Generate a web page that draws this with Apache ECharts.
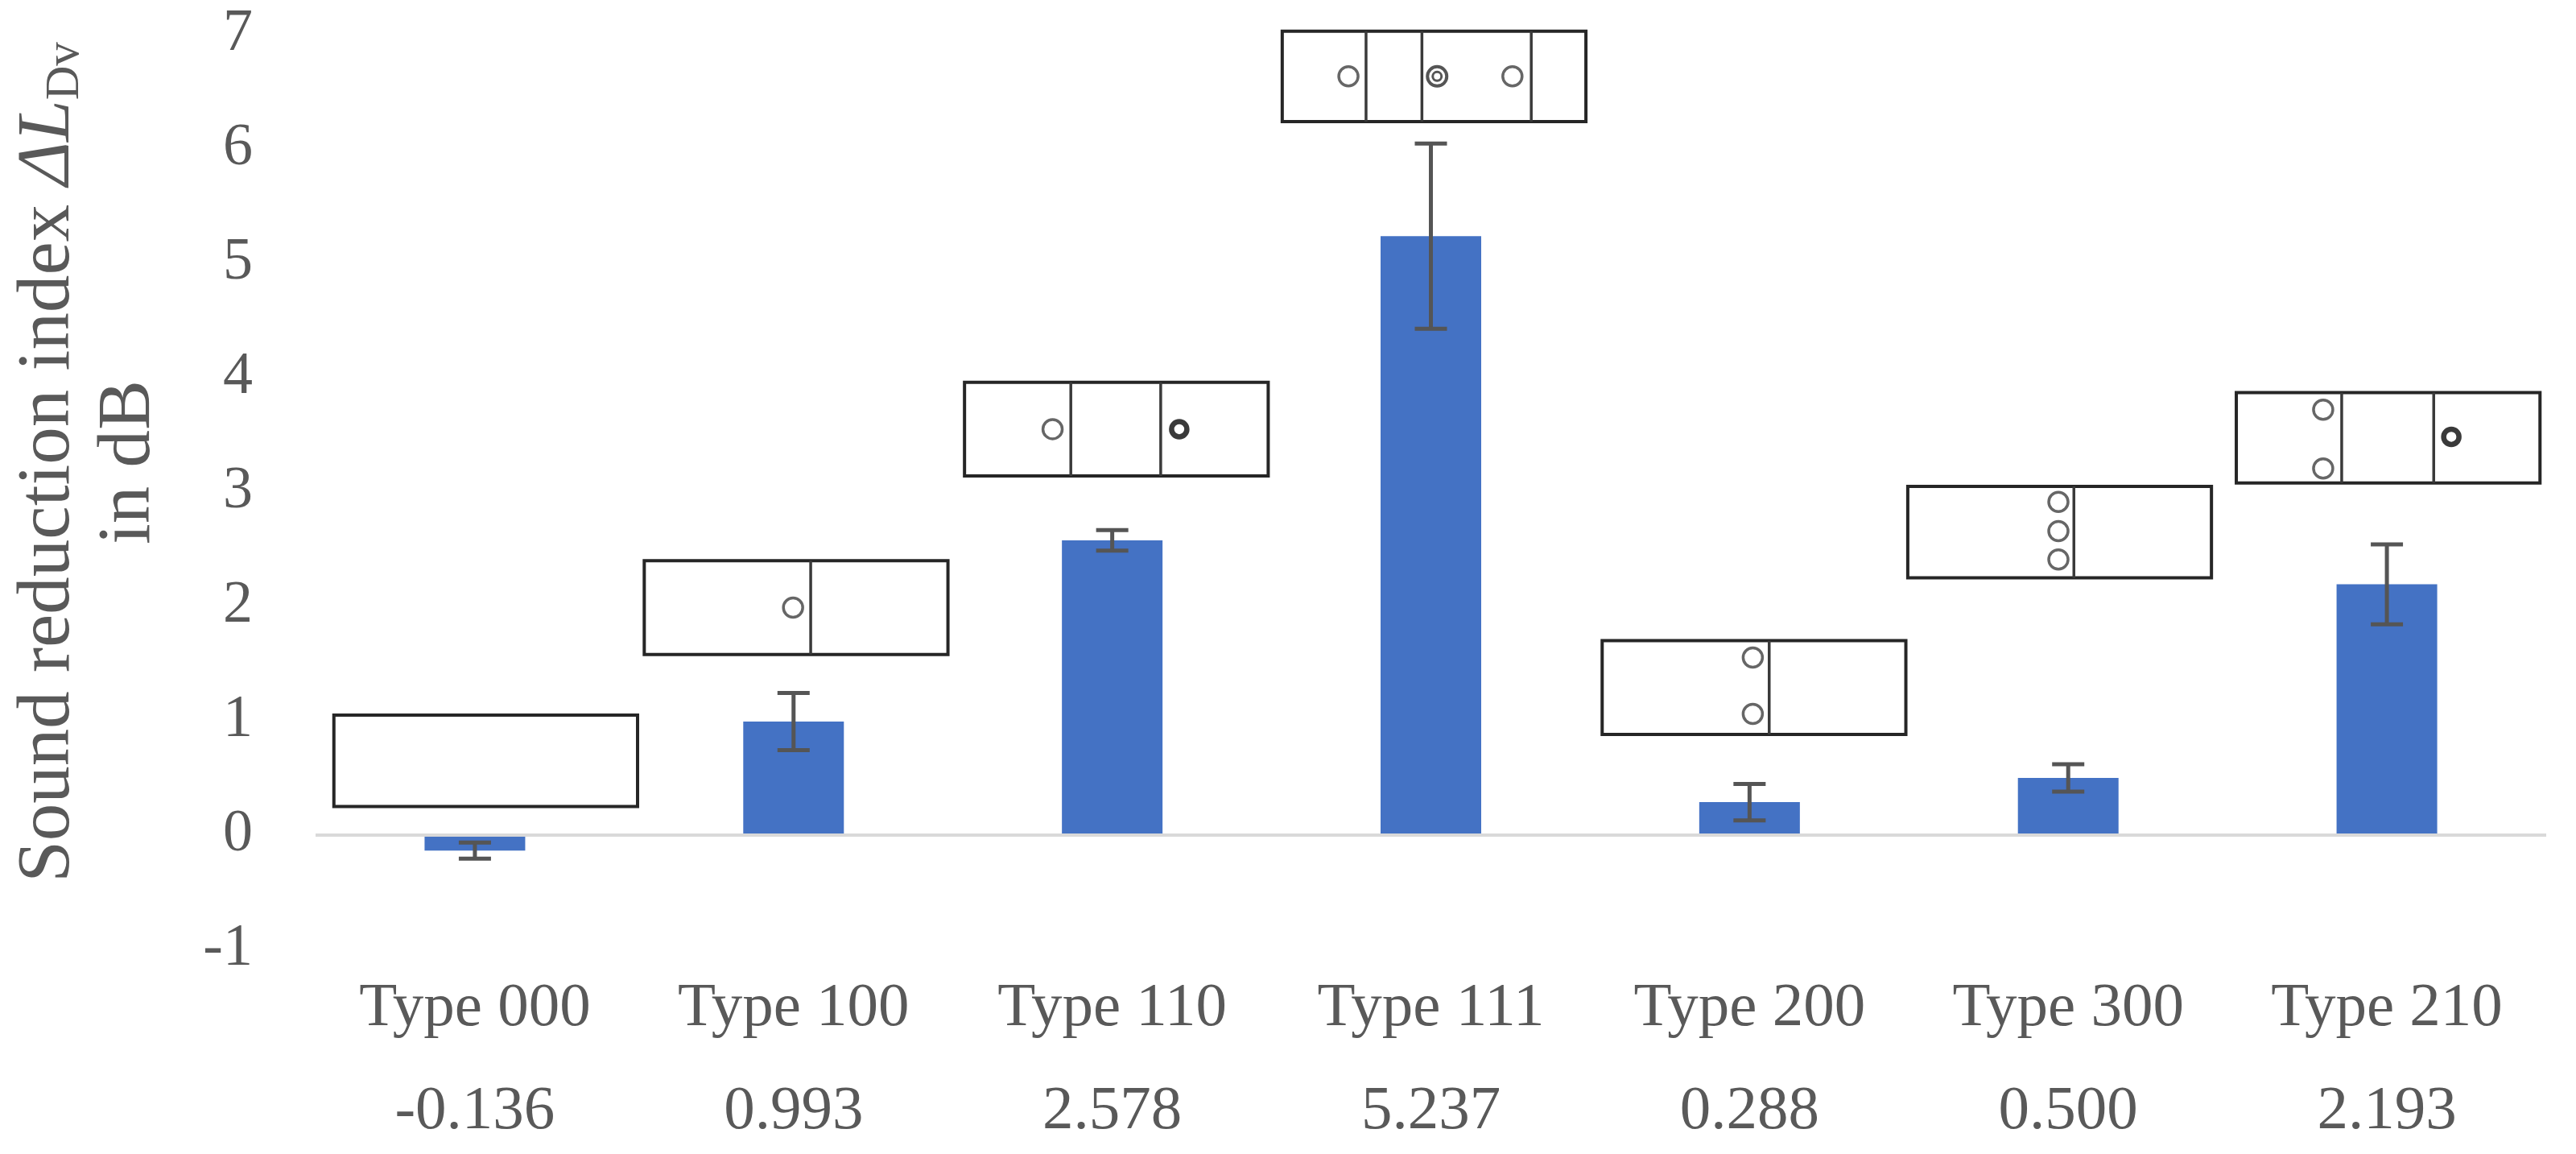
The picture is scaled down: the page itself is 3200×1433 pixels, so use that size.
<!DOCTYPE html>
<html><head><meta charset="utf-8">
<script src="https://cdn.jsdelivr.net/npm/echarts@6/dist/echarts.min.js"></script>
<style>html,body{margin:0;padding:0;background:#fff}#c{width:3200px;height:1433px}</style>
</head><body><div id="c"></div>
<script>
// ---- data ----
const categories = ['Type 000', 'Type 100', 'Type 110', 'Type 111', 'Type 200', 'Type 300', 'Type 210'];
const values = [-0.136, 0.993, 2.578, 5.237, 0.288, 0.500, 2.193];
const errors = [0.07, 0.25, 0.09, 0.81, 0.16, 0.12, 0.35];
const yMin = -1, yMax = 7, yStep = 1;
const yTitle = ['Sound reduction index ', '\u0394L', 'Dv', 'in dB'];
// cross-section icons: box top/bottom in dB, dividers & holes as fractions of the box
const iconShift = [0.034, 0.008, 0.013, 0.010, 0.014, -0.027, 0.004];
const iconTop = [1.05, 2.40, 3.96, 7.03, 1.70, 3.05, 3.87];
const iconBottom = [0.25, 1.58, 3.14, 6.24, 0.88, 2.25, 3.08];
const iconDividers = [[], [0.548], [0.35, 0.646], [0.276, 0.46, 0.82], [0.55], [0.547], [0.347, 0.65]];
const iconHoles = [
  [],
  [[0.49, 0.5, 'o']],
  [[0.29, 0.5, 'o'], [0.707, 0.5, 'b']],
  [[0.218, 0.5, 'o'], [0.51, 0.5, 'd'], [0.758, 0.5, 'o']],
  [[0.496, 0.18, 'o'], [0.496, 0.78, 'o']],
  [[0.496, 0.17, 'o'], [0.496, 0.49, 'o'], [0.496, 0.80, 'o']],
  [[0.286, 0.19, 'o'], [0.286, 0.84, 'o'], [0.708, 0.49, 'b']]
];

const FONT = 'Liberation Serif';
const GREY = '#595959';
const chart = echarts.init(document.getElementById('c'));

const errData = values.map((v, i) => [i, v - errors[i], v + errors[i]]);
const iconData = categories.map((c, i) => [i, iconTop[i], iconBottom[i]]);

function renderErr(params, api) {
  const i = api.value(0);
  const lo = api.coord([i, api.value(1)]);
  const hi = api.coord([i, api.value(2)]);
  const x = lo[0], hw = 20;
  const st = { stroke: '#555555', lineWidth: 5 };
  return { type: 'group', children: [
    { type: 'line', shape: { x1: x, y1: lo[1], x2: x, y2: hi[1] }, style: st },
    { type: 'line', shape: { x1: x - hw, y1: hi[1], x2: x + hw, y2: hi[1] }, style: st },
    { type: 'line', shape: { x1: x - hw, y1: lo[1], x2: x + hw, y2: lo[1] }, style: st }
  ]};
}

function renderIcon(params, api) {
  const i = api.value(0);
  const band = api.size([1, 0])[0];
  const w = band * 0.953;
  const t = api.coord([i, api.value(1)]);
  const b = api.coord([i, api.value(2)]);
  const cx = t[0] + iconShift[i] * band;
  const x0 = cx - w / 2, y0 = t[1], h = b[1] - t[1];
  const ch = [];
  ch.push({ type: 'rect', shape: { x: x0, y: y0, width: w, height: h }, style: { fill: '#fff', stroke: '#262626', lineWidth: 4 } });
  iconDividers[i].forEach(f => {
    const x = x0 + f * w;
    ch.push({ type: 'line', shape: { x1: x, y1: y0, x2: x, y2: y0 + h }, style: { stroke: '#3a3a3a', lineWidth: 3.5 } });
  });
  iconHoles[i].forEach(([fx, fy, kind]) => {
    const x = x0 + fx * w, y = y0 + fy * h;
    if (kind === 'o') {
      ch.push({ type: 'circle', shape: { cx: x, cy: y, r: 12 }, style: { fill: '#fff', stroke: '#666', lineWidth: 3.5 } });
    } else if (kind === 'b') {
      ch.push({ type: 'circle', shape: { cx: x, cy: y, r: 9.5 }, style: { fill: '#fff', stroke: '#3a3a3a', lineWidth: 6.5 } });
    } else {
      ch.push({ type: 'circle', shape: { cx: x, cy: y, r: 12 }, style: { fill: '#fff', stroke: '#555', lineWidth: 4 } });
      ch.push({ type: 'circle', shape: { cx: x, cy: y, r: 5.5 }, style: { fill: '#fff', stroke: '#555', lineWidth: 3 } });
    }
  });
  return { type: 'group', children: ch };
}

const nameRich = {
  a: { fontFamily: FONT, fontSize: 93, lineHeight: 100, color: GREY },
  i: { fontFamily: FONT, fontSize: 93, lineHeight: 100, color: GREY, fontStyle: 'italic' },
  s: { fontFamily: FONT, fontSize: 59, lineHeight: 62, color: GREY, verticalAlign: 'bottom' }
};

chart.setOption({
  animation: false,
  backgroundColor: '#fff',
  grid: { left: 392, right: 37, top: 43, bottom: 254, containLabel: false, outerBoundsMode: 'none' },
  xAxis: {
    type: 'category', data: categories,
    axisLine: { show: false, onZero: false }, axisTick: { show: false }, splitLine: { show: false },
    axisLabel: {
      interval: 0, margin: 10, color: GREY, fontFamily: FONT, fontSize: 77, lineHeight: 128,
      formatter: (v, i) => v + '\n' + values[i].toFixed(3)
    }
  },
  yAxis: {
    type: 'value', min: yMin, max: yMax, interval: yStep,
    axisLine: { show: false }, axisTick: { show: false }, splitLine: { show: false },
    axisLabel: { margin: 78, color: GREY, fontFamily: FONT, fontSize: 74 },
    name: '{a|' + yTitle[0] + '}{i|' + yTitle[1] + '}{s|' + yTitle[2] + '}\n{a|' + yTitle[3] + '}',
    nameLocation: 'middle', nameRotate: 90, nameGap: 181,
    nameTextStyle: { fontFamily: FONT, fontSize: 93, lineHeight: 100, color: GREY, padding: [0, 0, 0, 74], rich: nameRich }
  },
  series: [
    {
      type: 'bar', data: values, barWidth: 125, itemStyle: { color: '#4472C4' }, z: 2,
      markLine: { silent: true, symbol: ['none', 'none'], label: { show: false },
        lineStyle: { color: '#d9d9d9', width: 4, type: 'solid' }, data: [{ yAxis: 0 }] }
    },
    { type: 'custom', data: errData, renderItem: renderErr, encode: { x: 0, y: [1, 2] }, z: 3, silent: true },
    { type: 'custom', data: iconData, renderItem: renderIcon, encode: { x: 0, y: [1, 2] }, z: 4, clip: false, silent: true }
  ]
});
</script></body></html>
